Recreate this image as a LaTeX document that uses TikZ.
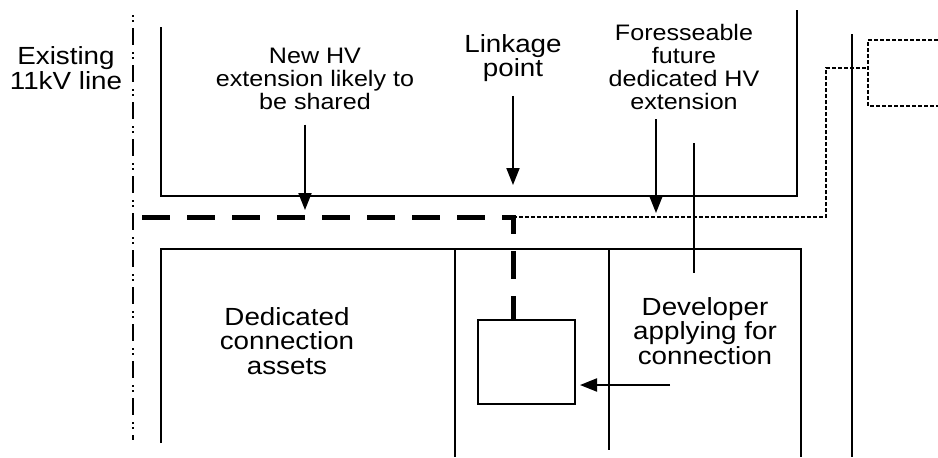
\documentclass[tikz,border=0pt]{standalone}
\usepackage{fontspec}
\setmainfont{Liberation Sans}[FakeStretch=1.12]
\usetikzlibrary{arrows.meta,calc}

\begin{document}
\begin{tikzpicture}[x=0.5pt, y=-0.5pt, line width=1pt,
    lbl/.style={align=center, inner sep=0pt, font=\fontsize{12.4}{12.2}\selectfont},
    small/.style={font=\fontsize{11.2}{11.4}\selectfont},
    arr/.style={-{Triangle[length=8.5pt,width=6.5pt]}},
    hvshared/.style={line width=2.5pt, dash pattern=on 14pt off 8.5pt},
    hvfuture/.style={line width=0.8pt, dash pattern=on 2pt off 1pt},
    hvexist/.style={line width=0.8pt,
      dash pattern=on 1pt off 1.5pt on 1pt off 3pt on 8.5pt off 3.5pt}]
  \useasboundingbox (0,0) rectangle (938,457);%
  % plot boundaries
  \draw (161,27) |- (797,196) -- (797,10);%
  \draw (161,443) |- (801,249) -- (801,457);%
  \draw (455,249) -- (455,457);%
  \draw (609,249) -- (609,450);%
  \draw (852,34) -- (852,457);%
  % HV network
  \coordinate (tap) at (142,217);%
  \coordinate (link) at (513,217);%
  \node[draw, minimum width=48.5pt, minimum height=42pt, inner sep=0pt]
    (sub) at (526.5,362) {};%
  \draw[hvexist] (133,15) -- (133,440);%
  \draw[hvshared] (tap) -- (link) -- (link |- sub.north);%
  \draw[hvfuture] (link) -- (826,217) -- (826,68) -- (868,68);%
  \draw[hvfuture] (938,40) -| (868,106) -- (938,106);%
  % labels
  \node[lbl] (exist) at (66,68) {Existing\\11kV line};%
  \node[lbl, small] (newhv) at (315,79) {New HV\\extension likely to\\be shared};%
  \node[lbl] (linkage) at (513,58) {Linkage\\point};%
  \node[lbl, small] (future) at (684,67)
    {Foresseable\\future\\dedicated HV\\extension};%
  \node[lbl] (assets) at (287,341) {Dedicated\\connection\\assets};%
  \node[lbl] (developer) at (705,331) {Developer\\applying for\\connection};%
  % pointers
  \coordinate (shared) at (305,210);%
  \coordinate (futureend) at (656,213);%
  \coordinate (tie) at (694,143);%
  \coordinate (devarrow) at (670,385);%
  \draw[arr, shorten <=7pt] (newhv.south -| shared) -- (shared);%
  \draw[arr, shorten <=6.5pt, shorten >=16pt] (linkage.south -| link) -- (link);%
  \draw[arr, shorten <=4.5pt] (future.south -| futureend) -- (futureend);%
  \draw[shorten >=12pt] (tie) -- (tie |- developer.north);%
  \draw[arr, shorten >=2pt] (devarrow) -- (devarrow -| sub.east);%
\end{tikzpicture}
\end{document}
